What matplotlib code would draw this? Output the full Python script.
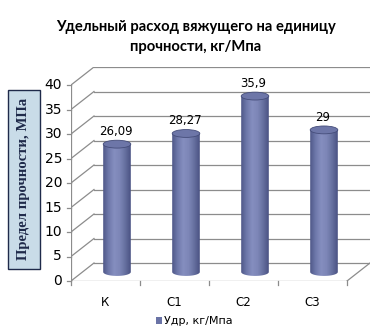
import numpy as np
import matplotlib.pyplot as plt
from matplotlib.patches import Ellipse, Rectangle, Polygon
from matplotlib.colors import LinearSegmentedColormap

# Data
categories = ['К', 'С1', 'С2', 'С3']
values = [26.09, 28.27, 35.9, 29]
value_labels = ['26,09', '28,27', '35,9', '29']
yticks = [0, 5, 10, 15, 20, 25, 30, 35, 40]
title = 'Удельный расход вяжущего на единицу\nпрочности, кг/Мпа'
ylabel = 'Предел прочности, МПа'
legend_label = 'Удр, кг/Мпа'

# depth offset of the back wall in data units
dx = 23 / 69
dy = 18 / 4.9
ymax = 40
bar_w = 0.40
ell_h = 1.6

fig = plt.figure(figsize=(3.91, 3.34), dpi=100)
ax = fig.add_axes([71 / 391, 1 - 281 / 334, (370 - 71) / 391, (281 - 67) / 334])
ax.set_xlim(-0.5, len(categories) - 0.5 + dx)
ax.set_ylim(0, ymax + dy)
ax.axis('off')

grid_c = '#8c8c8c'
x0, x1 = -0.5, len(categories) - 0.5

# back wall gridlines and side wall diagonals
for v in yticks:
    ax.plot([x0 + dx, x1 + dx], [v + dy, v + dy], color=grid_c, lw=0.9, zorder=1)
    ax.plot([x0, x0 + dx], [v, v + dy], color=grid_c, lw=0.9, zorder=1)
# floor
ax.plot([x1, x1 + dx], [0, dy], color=grid_c, lw=0.9, zorder=1)
# front axes
ax.plot([x0, x0], [0, ymax], color=grid_c, lw=0.9, zorder=1)
ax.plot([x0, x1], [0, 0], color=grid_c, lw=0.9, zorder=1)
for v in yticks:
    ax.plot([x0 - 0.06, x0], [v, v], color=grid_c, lw=0.9, clip_on=False)
    ax.text(x0 - 0.13, v, str(v), ha='right', va='center', fontsize=10,
            family='DejaVu Sans', color='black')
for i in range(len(categories) + 1):
    ax.plot([x0 + i, x0 + i], [0, -0.9], color=grid_c, lw=0.9, clip_on=False)
for i, c in enumerate(categories):
    ax.text(i, -4.3, c, ha='center', va='center', fontsize=8.5, family='DejaVu Sans')

# cylinders
cmap = LinearSegmentedColormap.from_list(
    'cyl', ['#4f5889', '#6f79ab', '#858ebf', '#7d86b7', '#66709f', '#4a5283'])
grad = np.linspace(0, 1, 64).reshape(1, -1)
mx, my = dx / 2, dy / 2
for i, v in enumerate(values):
    cx = i + mx
    base = my
    top = v + my
    im = ax.imshow(grad, cmap=cmap, aspect='auto', zorder=3,
                   extent=[cx - bar_w / 2, cx + bar_w / 2, base - ell_h / 2, top])
    # clip to body + bottom half ellipse
    verts = [[cx - bar_w / 2, top], [cx - bar_w / 2, base]]
    t = np.linspace(np.pi, 2 * np.pi, 40)
    verts += [[cx + bar_w / 2 * np.cos(a), base + ell_h / 2 * np.sin(a)] for a in t]
    verts += [[cx + bar_w / 2, top]]
    clip = Polygon(verts, closed=True, facecolor='none', edgecolor='none')
    ax.add_patch(clip)
    im.set_clip_path(clip)
    ax.add_patch(Ellipse((cx, top), bar_w, ell_h, facecolor='#6d76a8',
                         edgecolor='#454d7a', lw=0.6, zorder=4))
    ax.text(cx - 0.02, top + 1.3, value_labels[i], ha='center', va='bottom',
            fontsize=8.5, family='DejaVu Sans', zorder=5)

# title
fig.text(0.50, 1 - 37 / 334, title, ha='center', va='center', fontsize=10.6,
         fontweight='bold', family='Lato', linespacing=1.5)

# y label in a box
fig.patches.append(Rectangle((8 / 391, 1 - 269 / 334), 32 / 391, 179 / 334,
                             transform=fig.transFigure, facecolor='#c9dce8',
                             edgecolor='#1f2a4a', lw=1.0))
fig.text(24 / 391, 1 - 179 / 334, ylabel, rotation=90, ha='center', va='center',
         fontsize=10.6, fontweight='bold', family='Liberation Serif', color='#1f2a4a')

# legend
fig.patches.append(Rectangle((156 / 391, 1 - 324 / 334), 6 / 391, 7 / 334,
                             transform=fig.transFigure, facecolor='#6a73a6',
                             edgecolor='none'))
fig.text(164 / 391, 1 - 321 / 334, legend_label, ha='left', va='center',
         fontsize=8, family='DejaVu Sans')

fig.savefig('out.png', dpi=100)
